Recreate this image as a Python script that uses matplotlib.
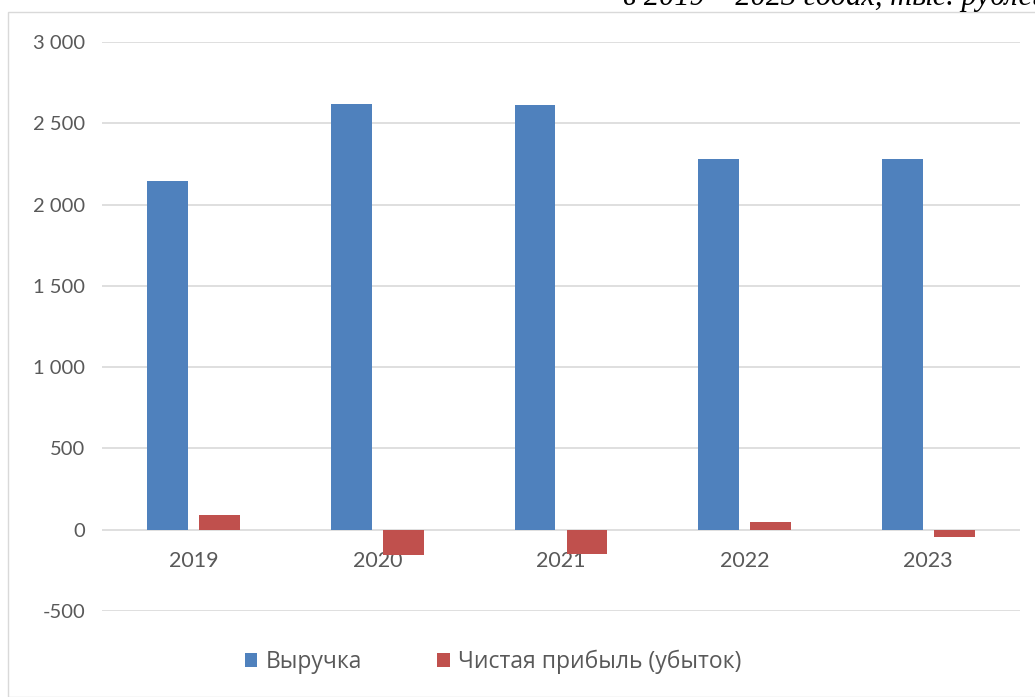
import numpy as np
import matplotlib
matplotlib.use("Agg")
import matplotlib.pyplot as plt
from matplotlib.patches import Rectangle
import matplotlib.transforms as mtransforms

years = ["2019", "2020", "2021", "2022", "2023"]
revenue = [2145, 2618, 2612, 2280, 2280]
profit = [92, -154, -148, 49, -43]
series_names = ["Выручка", "Чистая прибыль (убыток)"]
yticks = [-500, 0, 500, 1000, 1500, 2000, 2500, 3000]
ytick_labels = ["-500", "0", "500", "1 000", "1 500", "2 000", "2 500", "3 000"]

blue = "#4F81BD"
red = "#C0504D"
grey_text = "#595959"

plt.rcParams["font.family"] = ["Lato", "DejaVu Sans"]

fig = plt.figure(figsize=(10.35, 6.97), dpi=100)
ax = fig.add_axes([102 / 1035, 1 - 611 / 697, 918 / 1035, 569 / 697])

# chart frame
fig.patches.append(Rectangle((8 / 1035, 0), 1.0, 1 - 12 / 697, transform=fig.transFigure,
                             fill=False, edgecolor="#D9D9D9", linewidth=1.0))

x = np.arange(len(years))
w = 0.223
off = 0.1415
ax.bar(x - off, revenue, w, color=blue, label=series_names[0], zorder=3)
ax.bar(x + off, profit, w, color=red, label=series_names[1], zorder=3)

ax.set_xlim(-0.5, len(years) - 0.5)
ax.set_ylim(-500, 3000)
ax.set_yticks(yticks)
ax.set_yticklabels(ytick_labels)
ax.tick_params(axis="y", length=0, pad=12, labelsize=14.5, labelcolor=grey_text)
ax.set_xticks([])
ax.grid(axis="y", color="#D9D9D9", linewidth=1.2, zorder=0)
for s in ax.spines.values():
    s.set_visible(False)

# category labels sit just below the zero line
trans = mtransforms.offset_copy(ax.transData, fig=fig, x=0, y=-31, units="dots")
for xi, yr in zip(x, years):
    ax.text(xi, 0, yr, transform=trans, ha="center", va="center",
            fontsize=15.5, color=grey_text, zorder=2)

leg = fig.legend(loc="center", bbox_to_anchor=(493 / 1035, 1 - 662 / 697), ncol=2,
                 frameon=False, handlelength=0.55, handleheight=0.55,
                 handletextpad=0.35, columnspacing=3.3,
                 prop={"family": ["Open Sans", "DejaVu Sans"], "size": 16.5})
for t in leg.get_texts():
    t.set_color(grey_text)

fig.text(1.012, 1 - 5 / 697, "в 2019 – 2023 годах, тыс. рублей", ha="right", va="baseline",
         fontsize=22, style="italic", family="Liberation Serif", color="#000000")

fig.savefig("out.png", dpi=100)
